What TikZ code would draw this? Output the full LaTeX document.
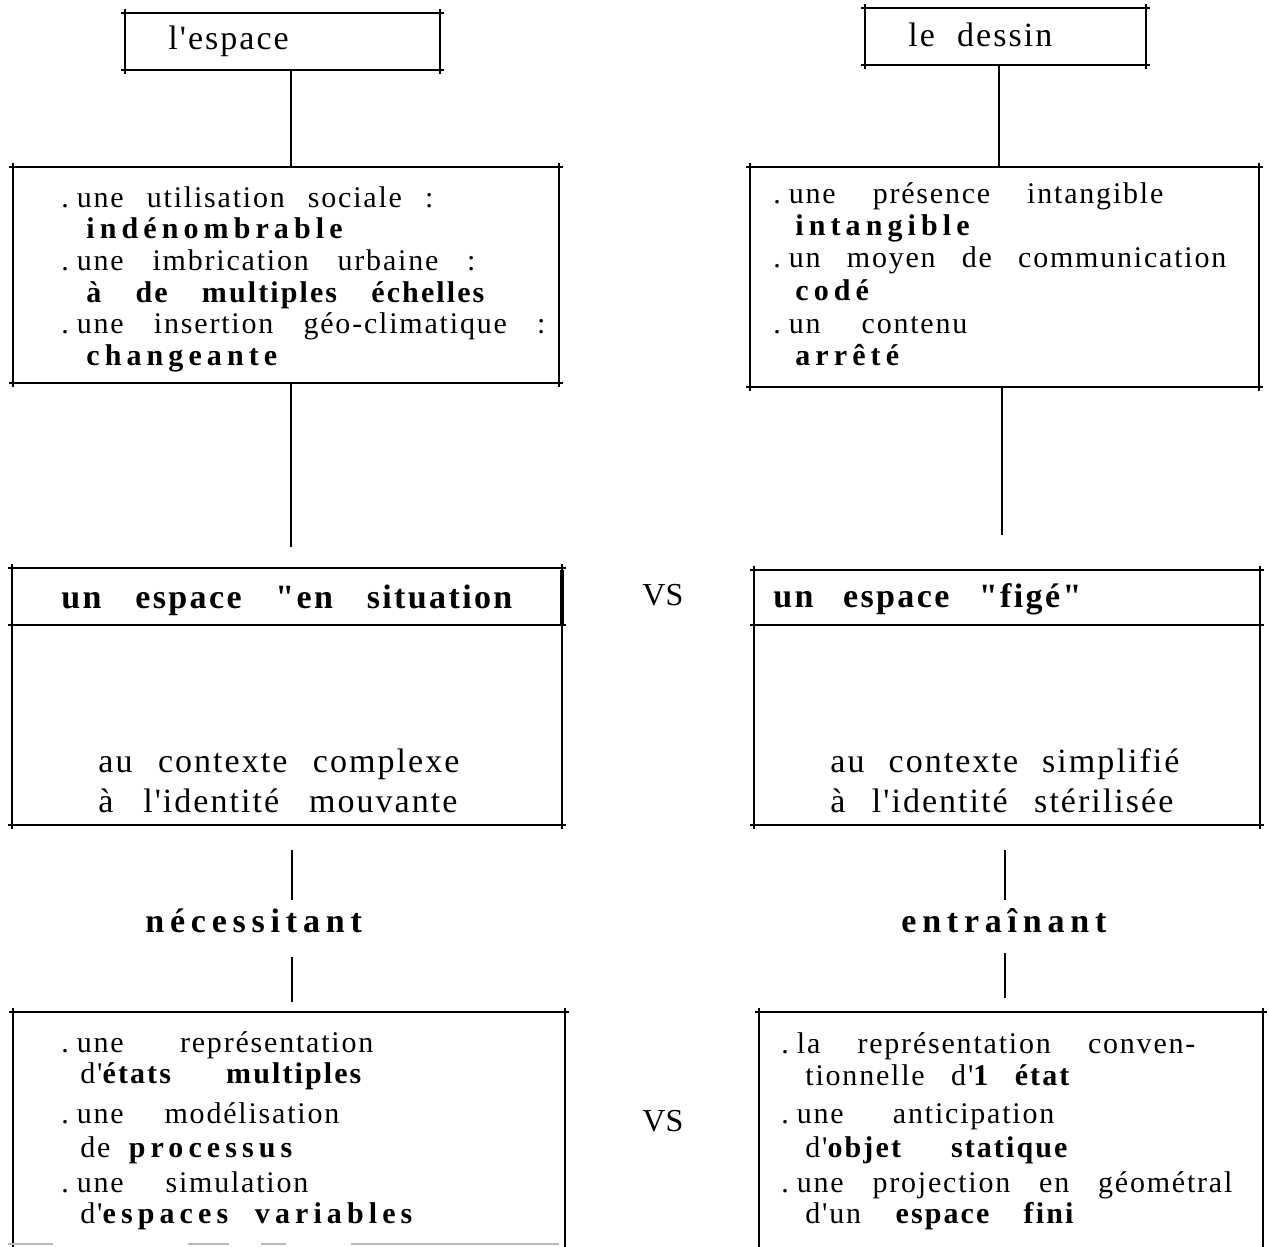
\documentclass[tikz,border=0pt]{standalone}
\usepackage{fontspec}
\newfontfamily\rmf{Liberation Serif}[LetterSpace=6]
\newfontfamily\bspf{Liberation Serif}[LetterSpace=17]
\newfontfamily\bmdf{Liberation Serif}[LetterSpace=7]
\newcommand\bolds[1]{{\bspf\bfseries #1}}
\newcommand\boldm[1]{{\bmdf\bfseries #1}}
\newskip\wordgap
\newcommand\lnfont{\rmf\fontsize{15}{18}\selectfont\wordgap=0.9em plus 0.6em minus 0.4em\spaceskip=\wordgap}
\newcommand\bigfont{\rmf\fontsize{17}{20}\selectfont\wordgap=0.95em plus 0.6em minus 0.4em\spaceskip=\wordgap}
\newcommand\ttlfont{\rmf\fontsize{17}{20}\selectfont\wordgap=0.55em plus 0.3em minus 0.2em\spaceskip=\wordgap}
\newcommand\vsfont{\fontspec{Liberation Serif}\fontsize{16}{19}\selectfont}
\newcommand\fitto[2]{\makebox[\dimexpr #1pt/2\relax][s]{#2}}
\newcommand\framebx[1]{%
  \draw[bxline] (#1.north west) -- (#1.north east);
  \draw[bxline] (#1.south west) -- (#1.south east);
  \draw[bxline] (#1.north west) -- (#1.south west);
  \draw[bxline] (#1.north east) -- (#1.south east);}
\newcommand\openbx[1]{%
  \draw[bxline] (#1.north west) -- (#1.north east);
  \draw[bxline] (#1.north west) -- (#1.south west);
  \draw[bxline] (#1.north east) -- (#1.south east);}
\tikzset{
  ln/.style={anchor=base west, inner sep=0pt, font=\lnfont},
  big/.style={anchor=base west, inner sep=0pt, font=\bigfont},
  ttl/.style={anchor=base west, inner sep=0pt, font=\ttlfont},
  vs/.style={anchor=base west, inner sep=0pt, font=\vsfont},
  boxn/.style={inner sep=0pt, outer sep=0pt, anchor=north west, rectangle},
  bxline/.style={line width=1.3pt, shorten <=-2pt, shorten >=-2pt},
  conn/.style={line width=1.1pt},
}
\begin{document}
\begin{tikzpicture}[x=0.5pt,y=-0.5pt]
\useasboundingbox[fill=white] (0,0) rectangle (1269,1247);

% boxes
\node[boxn, minimum width=157.5pt, minimum height=28.5pt] (A) at (125,13) {};
\node[boxn, minimum width=140.5pt, minimum height=28.5pt] (D) at (865,8) {};
\node[boxn, minimum width=273pt, minimum height=108pt] (B) at (13,167) {};
\node[boxn, minimum width=254.5pt, minimum height=110pt] (RB) at (750,167) {};
\node[boxn, minimum width=275pt, minimum height=128.5pt] (C) at (12,568) {};
\node[boxn, minimum width=253pt, minimum height=127.5pt] (RC) at (754,570) {};
\node[boxn, minimum width=276pt, minimum height=117.5pt] (E) at (13,1012) {};
\node[boxn, minimum width=252pt, minimum height=117.5pt] (RE) at (759,1012) {};
\framebx{A}\framebx{D}\framebx{B}\framebx{RB}\framebx{C}\framebx{RC}
\openbx{E}\openbx{RE}

% dividers
\coordinate (cdiv) at (0,625);
\draw[bxline] (C.west |- cdiv) -- (C.east |- cdiv);
\draw[bxline] (RC.west |- cdiv) -- (RC.east |- cdiv);
\draw[line width=2.2pt] ([yshift=-1pt]C.north east) -- (C.east |- cdiv);

% faint bottom of E
\draw[gray!55, line width=1pt] (8,1244) -- (53,1244) (188,1244) -- (229,1244)
  (261,1244) -- (286,1244) (351,1244) -- (559,1244);

% titles
\node[ttl] (tA) at (168,50) {l'espace};
\node[ttl] (tD) at (908,47) {\fitto{144}{le dessin}};

% box B text
\node[ln] (b1) at (61,207) {\fitto{372}{.\hspace{4pt}une utilisation sociale :}};
\node[ln] (b2) at (86,238) {\bolds{indénombrable}};
\node[ln] (b3) at (61,270) {\fitto{414}{.\hspace{4pt}une imbrication urbaine :}};
\node[ln] (b4) at (86,302) {\fitto{398}{\boldm{à de multiples échelles}}};
\node[ln] (b5) at (61,333) {\fitto{484}{.\hspace{4pt}une insertion géo-climatique :}};
\node[ln] (b6) at (86,365) {\bolds{changeante}};

% box RB text
\node[ln] (r1) at (773,203) {\fitto{390}{.\hspace{4pt}une présence intangible}};
\node[ln] (r2) at (795,235) {\bolds{intangible}};
\node[ln] (r3) at (773,267) {\fitto{453}{.\hspace{4pt}un moyen de communication}};
\node[ln] (r4) at (795,300) {\bolds{codé}};
\node[ln] (r5) at (773,333) {\fitto{194}{.\hspace{4pt}un contenu}};
\node[ln] (r6) at (795,365) {\bolds{arrêté}};

% box C / RC
\node[big] (ch) at (61,608) {\fitto{451}{\boldm{un espace "en situation}}};
\node[big] (c1) at (98,772) {\fitto{361}{au contexte complexe}};
\node[big] (c2) at (98,812) {\fitto{359}{à l'identité mouvante}};
\node[big] (rch) at (773,607) {\fitto{308}{\boldm{un espace "figé"}}};
\node[big] (rc1) at (830,772) {\fitto{349}{au contexte simplifié}};
\node[big] (rc2) at (830,812) {\fitto{343}{à l'identité stérilisée}};

\node[vs] (vs1) at (642,605) {VS};
\node[vs] (vs2) at (642,1131) {VS};

% middle labels
\node[big] (nec) at (145,932) {\bolds{nécessitant}};
\node[big] (ent) at (901,932) {\bolds{entraînant}};

% box E text
\node[ln] (e1) at (61,1052) {\fitto{312}{.\hspace{4pt}une représentation}};
\node[ln] (e2) at (80,1083) {\fitto{281}{d'\boldm{états} \boldm{multiples}}};
\node[ln] (e3) at (61,1123) {\fitto{278}{.\hspace{4pt}une modélisation}};
\node[ln] (e4) at (80,1157) {\fitto{212}{de \bolds{processus}}};
\node[ln] (e5) at (61,1192) {\fitto{247}{.\hspace{4pt}une simulation}};
\node[ln] (e6) at (80,1223) {\fitto{332}{d'\bolds{espaces} \bolds{variables}}};

% box RE text
\node[ln] (f1) at (781,1053) {\fitto{414}{.\hspace{4pt}la représentation conven-}};
\node[ln] (f2) at (805,1085) {\fitto{264}{tionnelle d'\boldm{1 état}}};
\node[ln] (f3) at (781,1123) {\fitto{273}{.\hspace{4pt}une anticipation}};
\node[ln] (f4) at (805,1157) {\fitto{262}{d'\boldm{objet statique}}};
\node[ln] (f5) at (781,1192) {\fitto{451}{.\hspace{4pt}une projection en géométral}};
\node[ln] (f6) at (805,1223) {\fitto{268}{d'un \boldm{espace fini}}};

% connectors
\coordinate (kL) at (291,0);
\coordinate (kR) at (999,0);
\coordinate (kR2) at (1002,0);
\draw[conn] (A.south -| kL) -- (B.north -| kL);
\draw[conn] (D.south -| kR) -- (RB.north -| kR);
\coordinate (endL) at (291,547);
\coordinate (endR) at (1002,535);
\draw[conn] (B.south -| kL) -- (endL);
\draw[conn] (RB.south -| kR2) -- (endR);
\coordinate (n1) at (292,850); \coordinate (n2) at (292,900);
\coordinate (n3) at (292,957); \coordinate (n4) at (292,1002);
\draw[conn] (n1) -- (n2); \draw[conn] (n3) -- (n4);
\coordinate (m1) at (1005,850); \coordinate (m2) at (1005,900);
\coordinate (m3) at (1005,953); \coordinate (m4) at (1005,998);
\draw[conn] (m1) -- (m2); \draw[conn] (m3) -- (m4);
\end{tikzpicture}
\end{document}
